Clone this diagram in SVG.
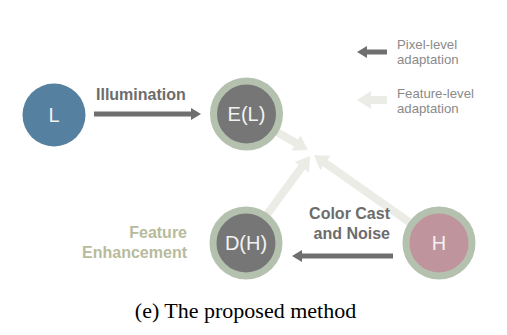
<svg xmlns="http://www.w3.org/2000/svg" width="507" height="335" viewBox="0 0 507 335">
  <style>
    .ring { stroke: #b4c1ae; stroke-width: 7; }
    .dark { fill: #767676; }
    .nlabel { font-family: "Liberation Sans", Arial, sans-serif; font-size: 20px; fill: #f2f2f2; text-anchor: middle; }
    .elabel { font-family: "Liberation Sans", Arial, sans-serif; font-size: 16px; font-weight: bold; fill: #6c6c6c; }
    .flabel { font-family: "Liberation Sans", Arial, sans-serif; font-size: 16px; font-weight: bold; fill: #b7bb9c; text-anchor: end; }
    .legend { font-family: "Liberation Sans", Arial, sans-serif; font-size: 13.2px; fill: #8a8a8a; }
    .caption { font-family: "Liberation Serif", "Times New Roman", serif; font-size: 22px; fill: #000; text-anchor: middle; }
    .pix { stroke: #6f6f6f; stroke-width: 5; fill: none; }
    .feat { stroke: #ecece7; stroke-width: 8; fill: none; }
  </style>
  <defs>
    <marker id="head-dark" markerUnits="userSpaceOnUse" markerWidth="10" markerHeight="12" refX="2" refY="6" orient="auto">
      <path d="M0,0 L10,6 L0,12 z" fill="#6f6f6f"/>
    </marker>
    <marker id="head-light" markerUnits="userSpaceOnUse" markerWidth="14" markerHeight="18" refX="2" refY="9" orient="auto">
      <path d="M0,0 L14,9 L0,18 z" fill="#ecece7"/>
    </marker>
  </defs>

  <!-- connectors -->
  <g id="connectors">
    <line class="feat" x1="246" y1="114" x2="297.6" y2="144" marker-end="url(#head-light)"/>
    <line class="feat" x1="246" y1="243" x2="302.9" y2="165.7" marker-end="url(#head-light)"/>
    <line class="feat" x1="439" y1="243" x2="323.8" y2="161.9" marker-end="url(#head-light)"/>
    <line class="pix" x1="94" y1="114" x2="193" y2="114" marker-end="url(#head-dark)"/>
    <line class="pix" x1="393" y1="256" x2="300" y2="256" marker-end="url(#head-dark)"/>
  </g>

  <!-- nodes -->
  <g id="node-L">
    <circle cx="54" cy="115" r="31.5" fill="#55809f"/>
    <text class="nlabel" x="54" y="122">L</text>
  </g>
  <g id="node-EL">
    <circle class="ring dark" cx="246.5" cy="114" r="33"/>
    <text class="nlabel" x="246.5" y="121">E(L)</text>
  </g>
  <g id="node-DH">
    <circle class="ring dark" cx="246" cy="243" r="33"/>
    <text class="nlabel" x="246" y="250">D(H)</text>
  </g>
  <g id="node-H">
    <circle class="ring" cx="439" cy="243" r="33" fill="#c0949c"/>
    <text class="nlabel" x="439" y="250">H</text>
  </g>

  <!-- edge labels -->
  <g id="labels">
    <text class="elabel" x="96" y="100">Illumination</text>
    <text class="elabel" x="390" y="219" text-anchor="end">Color Cast</text>
    <text class="elabel" x="390" y="239" text-anchor="end">and Noise</text>
    <text class="flabel" x="187" y="238">Feature</text>
    <text class="flabel" x="187" y="258">Enhancement</text>
  </g>

  <!-- legend -->
  <g id="legend">
    <line class="pix" x1="387" y1="52" x2="365" y2="52" marker-end="url(#head-dark)"/>
    <text class="legend" x="397" y="49">Pixel-level</text>
    <text class="legend" x="397" y="64">adaptation</text>
    <line class="feat" x1="387" y1="100" x2="369" y2="100" marker-end="url(#head-light)"/>
    <text class="legend" x="397" y="98">Feature-level</text>
    <text class="legend" x="397" y="113">adaptation</text>
  </g>

  <text class="caption" x="245.5" y="318">(e) The proposed method</text>
</svg>
